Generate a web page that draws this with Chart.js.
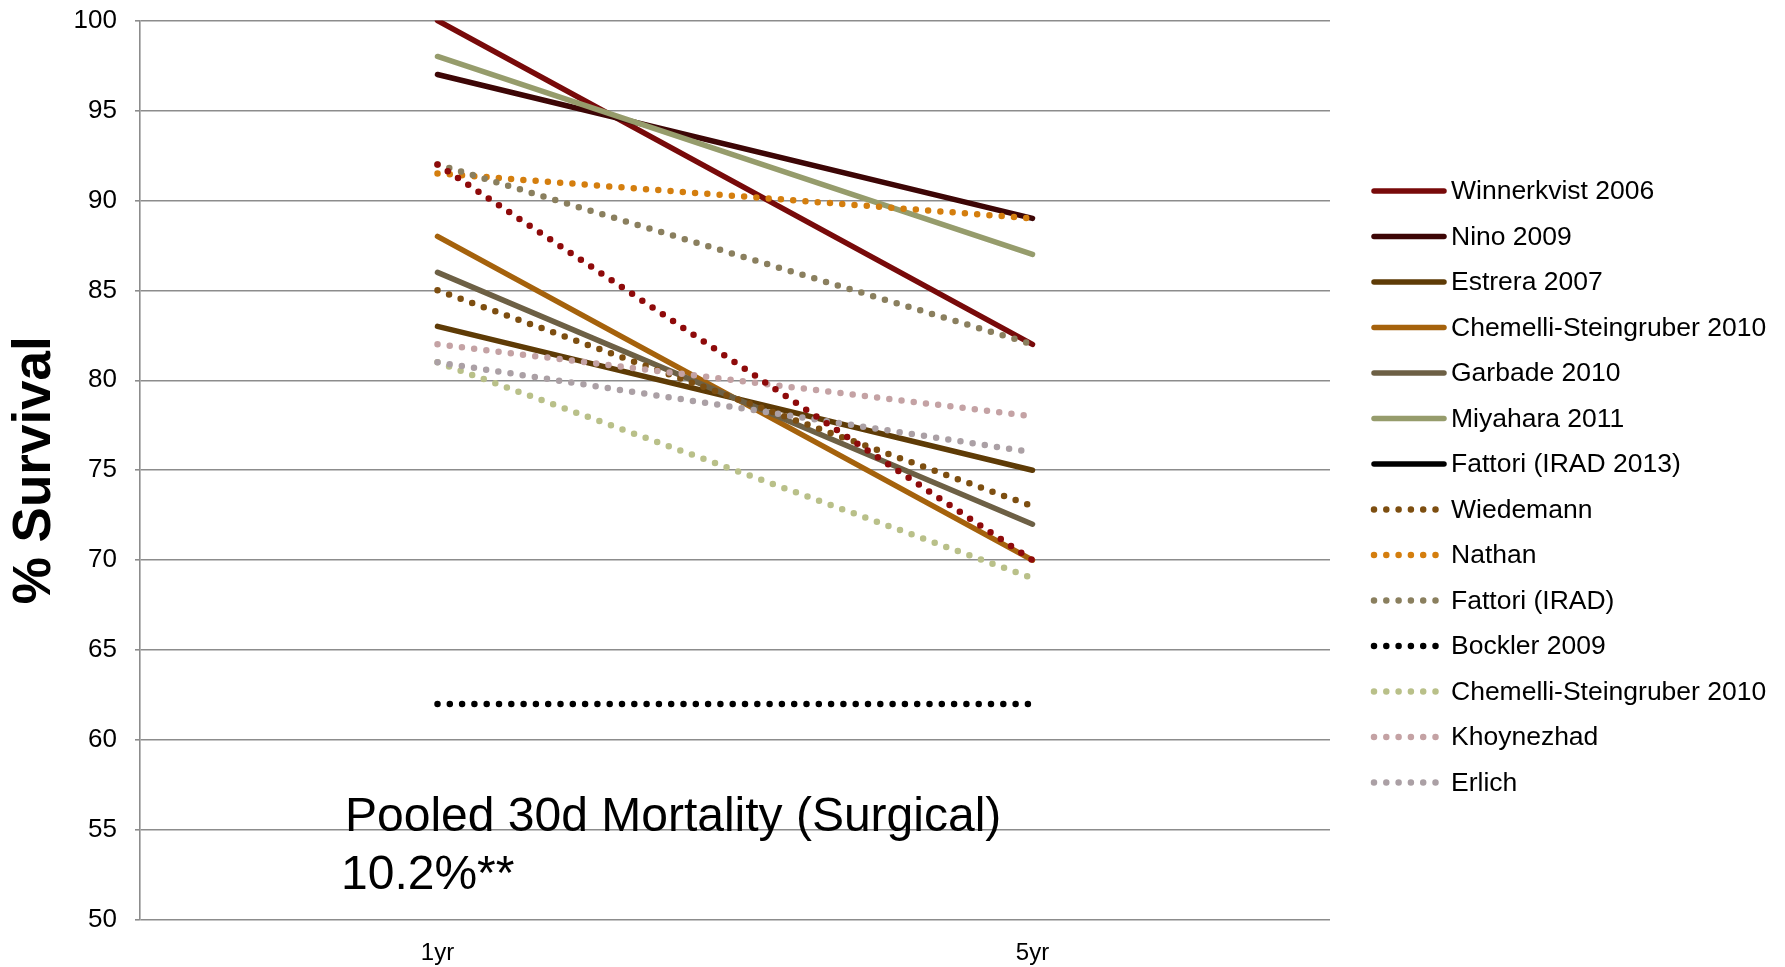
<!DOCTYPE html>
<html>
<head>
<meta charset="utf-8">
<script src="https://cdn.jsdelivr.net/npm/chart.js@4/dist/chart.umd.min.js"></script>
<style>
  html, body { margin: 0; padding: 0; background: #fff; }
  #wrap { width: 1785px; height: 967px; position: relative; }
</style>
</head>
<body>
<div id="wrap"><canvas id="c" width="1785" height="967"></canvas></div>
<script>
// Follow-up time points
const timepoints = ['1yr', '5yr'];

// Survival (%) at 1 and 5 years, by study
const winnerkvist2006 = [100, 82];
const nino2009 = [97, 89];
const estrera2007 = [83, 75];
const chemelliSolid2010 = [88, 70];
const garbade2010 = [86, 72];
const miyahara2011 = [98, 87];
const fattoriIrad2013 = [null, null];
const wiedemann = [85, 73];
const nathan = [91.5, 89];
const fattoriIrad = [92, 82];
const bockler2009 = [62, 62];
const chemelliDotted2010 = [81, 69];
const khoynezhad = [82, 78];
const erlich = [81, 76];
const extraSeries = [92, 70];

// Y axis range
const yMin = 50, yMax = 100, yStep = 5;

const FONT = "'Liberation Sans', Arial, sans-serif";

function solid(label, data, color) {
  return { label, data, borderColor: color, backgroundColor: color,
           borderWidth: 5.5, borderCapStyle: 'round', showInLegend: true };
}
function dotted(label, data, color, inLegend = true) {
  return { label, data, borderColor: color, backgroundColor: color,
           borderWidth: 6.5, borderDash: [0, 12.3], borderCapStyle: 'round',
           showInLegend: inLegend };
}

const datasets = [
  solid('Winnerkvist 2006', winnerkvist2006, '#780A0A'),
  solid('Nino 2009', nino2009, '#3D0606'),
  solid('Estrera 2007', estrera2007, '#5E3B06'),
  solid('Chemelli-Steingruber 2010', chemelliSolid2010, '#A5620C'),
  solid('Garbade 2010', garbade2010, '#6D6045'),
  solid('Miyahara 2011', miyahara2011, '#969C6C'),
  solid('Fattori (IRAD 2013)', fattoriIrad2013, '#000000'),
  dotted('Wiedemann', wiedemann, '#7D4E10'),
  dotted('Nathan', nathan, '#D47E0E'),
  dotted('Fattori (IRAD)', fattoriIrad, '#8A7F5E'),
  dotted('Bockler 2009', bockler2009, '#000000'),
  dotted('Chemelli-Steingruber 2010', chemelliDotted2010, '#B9C089'),
  dotted('Khoynezhad', khoynezhad, '#C4A2A4'),
  dotted('Erlich', erlich, '#ABA0A5'),
  dotted('Other', extraSeries, '#8E0A0A', false)
];
// later series are painted over earlier ones
datasets.forEach((d, i) => { d.order = datasets.length - i; d.pointRadius = 0; d.tension = 0; d.fill = false; });

// Legend drawn beside the plot: line sample + study name
const sideLegend = {
  id: 'sideLegend',
  afterDraw(chart) {
    const ctx = chart.ctx;
    const x0 = 1374, x1 = 1444, tx = 1451;
    let y = 191;
    const step = 45.5;
    ctx.save();
    chart.data.datasets.forEach(ds => {
      if (!ds.showInLegend) return;
      ctx.beginPath();
      ctx.strokeStyle = ds.borderColor;
      ctx.lineWidth = ds.borderWidth;
      ctx.lineCap = 'round';
      ctx.setLineDash(ds.borderDash || []);
      ctx.moveTo(x0, y);
      ctx.lineTo(x1, y);
      ctx.stroke();
      ctx.setLineDash([]);
      ctx.fillStyle = '#000';
      ctx.font = '26.5px ' + FONT;
      ctx.textBaseline = 'middle';
      ctx.textAlign = 'left';
      ctx.fillText(ds.label, tx, y + 1);
      y += step;
    });
    ctx.restore();
  }
};

// Text note inside the plot area
const note = {
  id: 'note',
  afterDraw(chart) {
    const ctx = chart.ctx;
    ctx.save();
    ctx.fillStyle = '#000';
    ctx.font = '48px ' + FONT;
    ctx.textBaseline = 'alphabetic';
    ctx.textAlign = 'left';
    ctx.fillText('Pooled 30d Mortality (Surgical)', 345, 831);
    ctx.fillText('10.2%**', 341, 889);
    ctx.restore();
  }
};

new Chart(document.getElementById('c'), {
  type: 'line',
  data: { labels: timepoints, datasets },
  plugins: [sideLegend, note],
  options: {
    responsive: false,
    animation: false,
    layout: { padding: { left: 0, right: 455, top: 20.5, bottom: 0 } },
    plugins: { legend: { display: false }, tooltip: { enabled: false } },
    elements: { point: { radius: 0 } },
    scales: {
      x: {
        type: 'category',
        offset: true,
        grid: { display: false },
        border: { display: false },
        ticks: { color: '#000', font: { family: FONT, size: 24 }, padding: 11 },
        afterFit(scale) { scale.height = 47; }
      },
      y: {
        min: yMin, max: yMax,
        ticks: { stepSize: yStep, color: '#000', font: { family: FONT, size: 26 }, padding: 18 },
        grid: { color: '#8c8c8c', lineWidth: 1.6, tickLength: 5 },
        border: { color: '#8c8c8c', width: 1.6 },
        title: { display: true, text: '% Survival', color: '#000',
                 font: { family: FONT, size: 53, weight: 'bold' }, padding: { top: 4, bottom: 0 } },
        afterFit(scale) {
          scale.width = 140;
          scale.paddingTop = 0;
          scale.paddingBottom = 0;
        }
      }
    }
  }
});
</script>
</body>
</html>
